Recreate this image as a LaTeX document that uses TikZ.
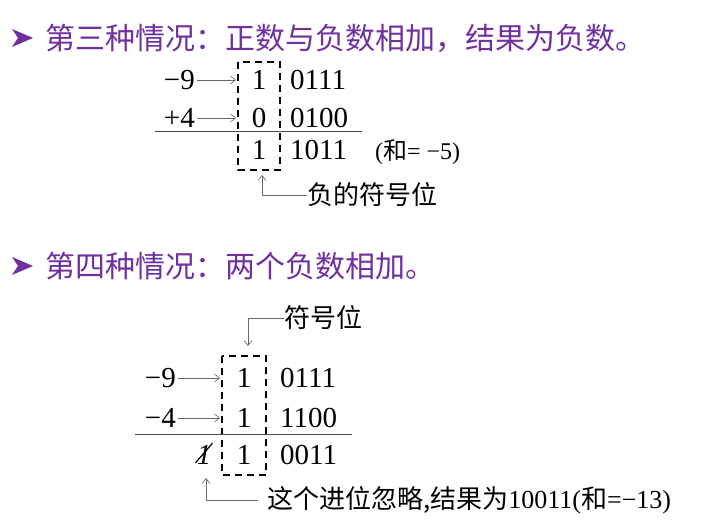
\documentclass[tikz,border=0pt]{standalone}
\usepackage{fontspec}
\setmainfont{Liberation Serif}
\newfontfamily\cjk{Noto Sans CJK SC}
\usetikzlibrary{arrows.meta}
\definecolor{ttl}{HTML}{7030A0}
\begin{document}
\begin{tikzpicture}[x=1pt,y=-1pt,
  num/.style={font=\fontsize{29}{30}\selectfont, inner sep=0pt},
  ttlt/.style={font=\fontsize{30}{31}\selectfont\cjk, text=ttl, anchor=west, inner sep=0pt},
  lbl/.style={font=\fontsize{26}{27}\selectfont\cjk, anchor=west, inner sep=0pt},
  thin/.style={draw=black!60, line width=0.6pt},
  arr/.style={thin, -{Straight Barb[length=5pt,width=8pt]}},
  dbox/.style={draw, line width=1.1pt, dash pattern=on 7pt off 5pt},
  rule/.style={draw=black!70, line width=0.8pt}]
\useasboundingbox[fill=white] (0,0) rectangle (717,526);
% Section 1
\fill[ttl] (12,29) -- (33,38) -- (12,47) -- (18,38) -- cycle;
\node[ttlt] (t1) at (45,38) {第三种情况：正数与负数相加，结果为负数。};
\node[num, anchor=east] (a1) at (195,80) {−9};
\node[num, anchor=east] (a2) at (195,118) {+4};
\node[num] (d1) at (259,80) {1};
\node[num] (d2) at (259,118) {0};
\node[num] (d3) at (259,150) {1};
\node[num, anchor=west] (r1) at (290,80) {0111};
\node[num, anchor=west] (r2) at (290,118) {0100};
\node[num, anchor=west] (r3) at (290,150) {1011};
\node[anchor=west, inner sep=0pt, font=\fontsize{24}{24}\selectfont] (s1) at (375,152) {({\cjk 和}= −5)};
\draw[arr] (a1.east) ++(2,0) -- (236,80);
\draw[arr] (a2.east) ++(2,0) -- (236,118);
\draw[dbox] (238,62) rectangle (280,170);
\draw[rule] (155,131) -- (362,131);
\node[lbl] (n1) at (307,195) {负的符号位};
\draw[arr] (n1.west) -- (262,195) -- (262,175);
% Section 2
\fill[ttl] (12,257) -- (33,266) -- (12,275) -- (18,266) -- cycle;
\node[ttlt] (t2) at (45,266) {第四种情况：两个负数相加。};
\node[lbl] (n2) at (284,318) {符号位};
\draw[arr] (n2.west) -- (248,318) -- (248,346);
\node[num, anchor=east] (c1) at (176,378) {−9};
\node[num, anchor=east] (c2) at (176,418) {−4};
\node[num] (e1) at (244,378) {1};
\node[num] (e2) at (244,418) {1};
\node[num] (e3) at (244,455) {1};
\node[num, font=\fontsize{29}{30}\selectfont\itshape] (x) at (204,455) {1};
\draw[line width=1.2pt] (x.south west) ++(-1,-2) -- ([xshift=1pt,yshift=2pt]x.north east);
\node[num, anchor=west] (q1) at (280,378) {0111};
\node[num, anchor=west] (q2) at (280,418) {1100};
\node[num, anchor=west] (q3) at (280,455) {0011};
\draw[arr] (c1.east) ++(2,0) -- (220,378);
\draw[arr] (c2.east) ++(2,0) -- (220,418);
\draw[dbox] (222,356) rectangle (266,475);
\draw[rule] (135,434) -- (352,434);
\node[lbl] (n3) at (267,500) {这个进位忽略,结果为{\fontspec{Liberation Serif}10011(}和{\fontspec{Liberation Serif}=−13)}};
\draw[arr] (258,500) -- (206,500) -- (206,478);
\end{tikzpicture}
\end{document}
